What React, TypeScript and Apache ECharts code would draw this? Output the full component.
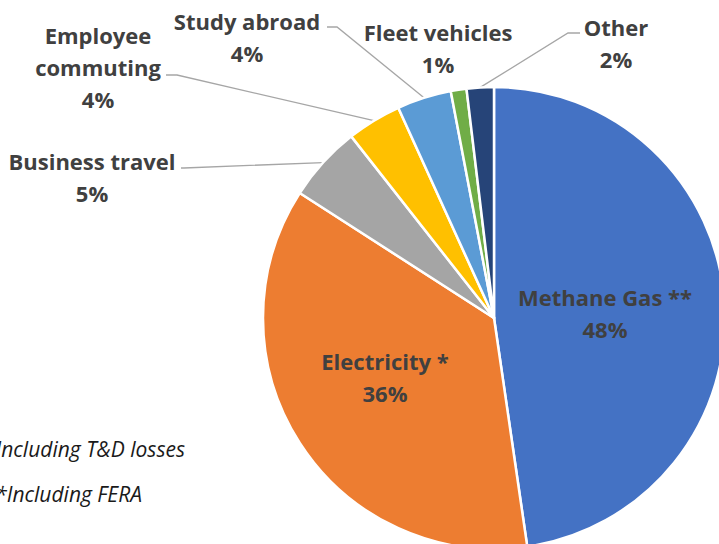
import { useEffect, useRef } from 'react';
import * as echarts from 'echarts';

const categories = ['Methane Gas **', 'Electricity *', 'Business travel', 'Employee commuting', 'Study abroad', 'Fleet vehicles', 'Other'];
const labelNames = ['Methane Gas **', 'Electricity *', 'Business travel', 'Employee\ncommuting', 'Study abroad', 'Fleet vehicles', 'Other'];
const values = [47.7, 36.4, 5.3, 3.8, 3.8, 1.1, 1.9];
const colors = ['#4472C4', '#ED7D31', '#A5A5A5', '#FFC000', '#5B9BD5', '#70AD47', '#264478'];
const insideLabels = [true, true, false, false, false, false, false];
const showLeader = [false, false, true, true, true, false, true];
const footnotes = ['*Including T&D losses', '**Including FERA'];

// layout helpers (label anchor positions and leader-line bends)
const labelPos: number[][] = [[605, 313], [385, 377], [92, 177], [98, 67], [247, 37], [438, 48], [616, 43]];
const leaderBends: (number[][] | null)[] = [
  null, null,
  [[184, 168], [181, 168]],
  [[177, 75], [166, 75]],
  [[337, 27], [327, 27]],
  null,
  [[568, 33], [580, 33]],
];

export default function App() {
  const ref = useRef<HTMLDivElement>(null);
  useEffect(() => {
    if (!ref.current) return;
    const chart = echarts.init(ref.current, undefined, { renderer: 'svg' });
    const font = { fontFamily: 'Open Sans', fontWeight: 'bold' as const, fontSize: 22, color: '#404040', lineHeight: 32 };
    chart.setOption({
      animation: false,
      backgroundColor: '#ffffff',
      graphic: footnotes.map((t, i) => ({
        type: 'text',
        x: i === 0 ? 185 : 142,
        y: i === 0 ? 449 : 494,
        style: { text: t, textAlign: 'right', textVerticalAlign: 'middle', fill: '#1a1a1a', font: 'italic 21px "Open Sans"' },
      })),
      series: [
        {
          type: 'pie',
          center: [494, 318],
          radius: 231,
          startAngle: 90,
          clockwise: true,
          avoidLabelOverlap: false,
          itemStyle: { borderColor: '#ffffff', borderWidth: 2.5 },
          data: categories.map((name, i) => ({
            name,
            value: values[i],
            itemStyle: { color: colors[i] },
            label: {
              show: true,
              position: insideLabels[i] ? 'inside' : 'outside',
              formatter: (p: any) => `${labelNames[p.dataIndex]}\n${Math.round(p.percent)}%`,
              align: 'center',
              ...font,
            },
            labelLine: { show: showLeader[i], lineStyle: { color: '#A6A6A6', width: 1.3 } },
          })),
          labelLayout: (p: any) => {
            const i = p.dataIndex;
            const res: any = { x: labelPos[i][0], y: labelPos[i][1], align: 'center', verticalAlign: 'middle' };
            const bend = leaderBends[i];
            if (bend && p.labelLinePoints) {
              res.labelLinePoints = [p.labelLinePoints[0], bend[0], bend[1]];
            }
            return res;
          },
        },
      ],
    });
    return () => chart.dispose();
  }, []);
  return <div ref={ref} style={{ position: 'fixed', left: 0, top: 0, width: 719, height: 544 }} />;
}
